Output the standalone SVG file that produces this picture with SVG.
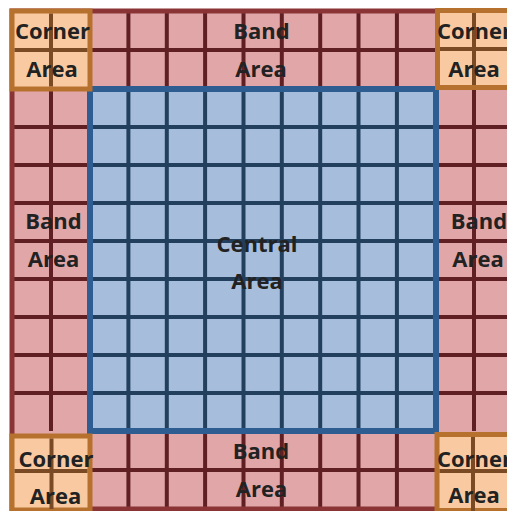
<svg xmlns="http://www.w3.org/2000/svg" width="507" height="511" viewBox="0 0 507 511">
<style>
.band{fill:#E0A6A8}
.bandline{stroke:#602023;stroke-width:4;fill:none}
.bandborder{stroke:#8B3436;stroke-width:5;fill:none}
.cen{fill:#A6BEDC}
.cenline{stroke:#223F5E;stroke-width:4;fill:none}
.cenborder{stroke:#2E5D91;stroke-width:6;fill:none}
.cor{fill:#F9CAA1;stroke:#B7712F;stroke-width:5}
.corline{stroke:#7A4A24;stroke-width:4;fill:none}
text{font-family:"Open Sans","Liberation Sans",sans-serif;font-weight:bold;font-size:22px;fill:#222;text-anchor:middle}
</style>
<g id="band-area">
<rect class="band" x="12" y="11" width="501" height="498"/>
<path class="bandline" d="M90,50H436 M128.4,11V89 M166.8,11V89 M205.1,11V89 M243.5,11V89 M281.8,11V89 M320.2,11V89 M358.5,11V89 M396.9,11V89
M90,470H436 M128.4,431V509 M166.8,431V509 M205.1,431V509 M243.5,431V509 M281.8,431V509 M320.2,431V509 M358.5,431V509 M396.9,431V509
M51,89V431 M12,127H90 M12,165H90 M12,203H90 M12,241H90 M12,279H90 M12,317H90 M12,355H90 M12,393H90
M474,89V431 M436,127H512 M436,165H512 M436,203H512 M436,241H512 M436,279H512 M436,317H512 M436,355H512 M436,393H512"/>
<rect class="bandborder" x="12" y="11" width="501" height="498"/>
</g>
<g id="band-top"><text x="261.5" y="39">Band</text><text x="261" y="77">Area</text></g>
<g id="band-bottom"><text x="261" y="459">Band</text><text x="261.5" y="497">Area</text></g>
<g id="band-left"><text x="53.5" y="229">Band</text><text x="53.5" y="267">Area</text></g>
<g id="band-right"><text x="479" y="229">Band</text><text x="478" y="267">Area</text></g>
<g id="central-area">
<rect class="cen" x="90" y="89" width="346" height="342"/>
<path class="cenline" d="M128.4,89V431 M166.8,89V431 M205.1,89V431 M243.5,89V431 M281.8,89V431 M320.2,89V431 M358.5,89V431 M396.9,89V431
M90,127H436 M90,165H436 M90,203H436 M90,241H436 M90,279H436 M90,317H436 M90,355H436 M90,393H436"/>
<rect class="cenborder" x="90" y="89" width="346" height="342"/>
<text x="257" y="252">Central</text><text x="257" y="289">Area</text>
</g>
<g id="corner-tl">
<rect class="cor" x="12" y="11" width="78" height="78"/>
<path class="corline" d="M51,13.5V86.5 M14.5,50H87.5"/>
<text x="52.5" y="39">Corner</text><text x="52" y="77">Area</text>
</g>
<g id="corner-tr">
<rect class="cor" x="437.5" y="10.5" width="76" height="77"/>
<path class="corline" d="M474,13V85 M440,49H511"/>
<text x="474.5" y="39">Corner</text><text x="474" y="77">Area</text>
</g>
<g id="corner-bl">
<rect class="cor" x="12" y="436" width="78" height="74"/>
<path class="corline" d="M51.5,438.5V509 M14.5,471H87.5"/>
<text x="56" y="467">Corner</text><text x="55.5" y="504">Area</text>
</g>
<g id="corner-br">
<rect class="cor" x="437" y="434.5" width="76" height="76"/>
<path class="corline" d="M473,437V511 M439.5,471H511"/>
<text x="474.5" y="467">Corner</text><text x="474" y="503">Area</text>
</g>
</svg>
